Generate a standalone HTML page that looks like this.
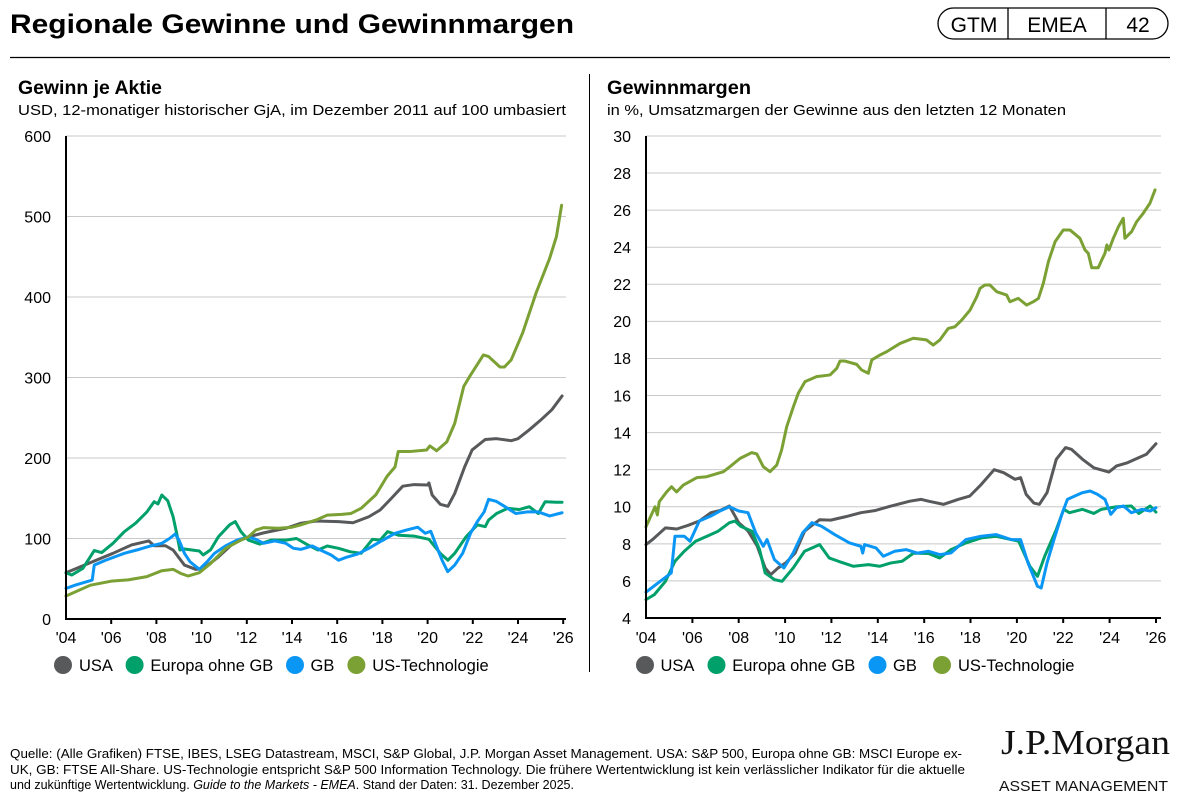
<!DOCTYPE html>
<html><head><meta charset="utf-8"><style>
html,body{margin:0;padding:0;background:#fff;}
svg{display:block;font-family:"Liberation Sans",Arial,sans-serif;}
</style></head><body>
<svg width="1178" height="801" viewBox="0 0 1178 801" xmlns="http://www.w3.org/2000/svg">
<!-- Header -->
<text x="10" y="33" font-size="27" font-weight="bold" fill="#000" textLength="564" lengthAdjust="spacingAndGlyphs">Regionale Gewinne und Gewinnmargen</text>
<rect x="938" y="8" width="230" height="31" rx="15.5" ry="15.5" fill="#fff" stroke="#000" stroke-width="1.3"/>
<line x1="1008" y1="8" x2="1008" y2="39" stroke="#000" stroke-width="1.3"/>
<line x1="1106" y1="8" x2="1106" y2="39" stroke="#000" stroke-width="1.3"/>
<text x="974" y="32" font-size="21" text-anchor="middle" fill="#000">GTM</text>
<text x="1057" y="32" font-size="21" text-anchor="middle" fill="#000">EMEA</text>
<text x="1138" y="32" font-size="21" text-anchor="middle" fill="#000">42</text>
<line x1="10" y1="57.5" x2="1170" y2="57.5" stroke="#000" stroke-width="1.3"/>
<line x1="589.5" y1="74" x2="589.5" y2="672" stroke="#000" stroke-width="1"/>

<!-- Left panel titles -->
<text x="18" y="94" font-size="19" font-weight="bold" fill="#000" textLength="144" lengthAdjust="spacingAndGlyphs">Gewinn je Aktie</text>
<text x="18" y="115" font-size="14.5" fill="#000" textLength="548" lengthAdjust="spacingAndGlyphs">USD, 12-monatiger historischer GjA, im Dezember 2011 auf 100 umbasiert</text>
<!-- Right panel titles -->
<text x="607" y="94" font-size="19" font-weight="bold" fill="#000" textLength="144" lengthAdjust="spacingAndGlyphs">Gewinnmargen</text>
<text x="607" y="115" font-size="14.5" fill="#000" textLength="459" lengthAdjust="spacingAndGlyphs">in %, Umsatzmargen der Gewinne aus den letzten 12 Monaten</text>

<!-- Left gridlines -->
<g stroke="#c8c8c8" stroke-width="1">
<line x1="66" y1="136" x2="566" y2="136"/>
<line x1="66" y1="216.5" x2="566" y2="216.5"/>
<line x1="66" y1="297" x2="566" y2="297"/>
<line x1="66" y1="377.5" x2="566" y2="377.5"/>
<line x1="66" y1="458" x2="566" y2="458"/>
<line x1="66" y1="538.5" x2="566" y2="538.5"/>
</g>
<g font-size="16" fill="#000" text-anchor="end">
<text x="51" y="142">600</text>
<text x="51" y="222.5">500</text>
<text x="51" y="303">400</text>
<text x="51" y="383.5">300</text>
<text x="51" y="464">200</text>
<text x="51" y="544.5">100</text>
<text x="51" y="625">0</text>
</g>

<!-- Right gridlines -->
<g stroke="#c8c8c8" stroke-width="1">
<line x1="646" y1="135.96" x2="1161" y2="135.96"/>
<line x1="646" y1="173.04" x2="1161" y2="173.04"/>
<line x1="646" y1="210.12" x2="1161" y2="210.12"/>
<line x1="646" y1="247.2" x2="1161" y2="247.2"/>
<line x1="646" y1="284.28" x2="1161" y2="284.28"/>
<line x1="646" y1="321.36" x2="1161" y2="321.36"/>
<line x1="646" y1="358.44" x2="1161" y2="358.44"/>
<line x1="646" y1="395.52" x2="1161" y2="395.52"/>
<line x1="646" y1="432.6" x2="1161" y2="432.6"/>
<line x1="646" y1="469.68" x2="1161" y2="469.68"/>
<line x1="646" y1="506.76" x2="1161" y2="506.76"/>
<line x1="646" y1="543.84" x2="1161" y2="543.84"/>
<line x1="646" y1="580.92" x2="1161" y2="580.92"/>
</g>
<g font-size="16" fill="#000" text-anchor="end">
<text x="631" y="142">30</text>
<text x="631" y="179">28</text>
<text x="631" y="216">26</text>
<text x="631" y="253">24</text>
<text x="631" y="290">22</text>
<text x="631" y="327">20</text>
<text x="631" y="364">18</text>
<text x="631" y="401.5">16</text>
<text x="631" y="438.5">14</text>
<text x="631" y="475.5">12</text>
<text x="631" y="512.5">10</text>
<text x="631" y="550">8</text>
<text x="631" y="587">6</text>
<text x="631" y="624">4</text>
</g>

<!-- Left series -->
<g transform="translate(66,619) scale(22.6,-0.805)" fill="none" stroke-width="3" stroke-linejoin="round" stroke-linecap="round">
<polyline vector-effect="non-scaling-stroke" stroke="#58595b" points="0,57.5 1.08,70 2.08,81.6 2.9,92 3.66,97 3.9,91 4.4,91 4.74,85.7 5.24,67 5.74,61.7 6.07,62.5 6.74,77 7.4,94 8.07,102 8.74,107 9.73,112.7 10.4,119 11.07,121.7 12.06,121 12.7,119.6 13.4,127 13.9,135.4 14.4,150 14.9,165 15.4,167 16,166.5 16.06,169 16.2,154 16.56,142.5 16.9,140 17.2,156 17.64,189 17.97,210 18.55,223 19.05,224 19.7,221.5 20,224 20.5,235 21,247 21.5,260 21.95,277"/>
<polyline vector-effect="non-scaling-stroke" stroke="#00a06a" points="0,57.5 0.25,54.6 0.75,63 1.25,85 1.58,82.5 2.08,94 2.58,108.5 3.08,119 3.58,133 3.9,145.7 4.07,143 4.24,154 4.5,147 4.74,127 4.9,106 5.04,85.7 5.24,87 5.9,84.5 6.07,79.5 6.4,86 6.74,102 7.24,117 7.49,121 7.74,108.5 8.07,98 8.57,93 9.07,98 9.73,98 10.2,100 10.7,92 11.15,85.7 11.56,90.7 12.06,87.8 12.56,83.6 13.06,81.6 13.56,99 13.9,98 14.23,108.5 14.73,104 15.4,103 16.06,99 16.56,81.6 16.9,73 17.2,81.6 17.7,102 18.2,117 18.55,114.7 18.7,123 19.05,131 19.55,137.5 20.05,136 20.5,139.5 20.9,131 21.2,145.7 21.7,145 21.95,145"/>
<polyline vector-effect="non-scaling-stroke" stroke="#0a96f5" points="0,38 0.4,42 1.16,48.4 1.25,67 1.75,73 2.58,81.6 3.24,86.5 3.74,90.7 4.24,94 4.58,100 4.83,105.6 5,98 5.24,81.6 5.49,71 5.9,61.7 6.24,71 6.57,81.6 7.07,91 7.57,98 8.07,102 8.4,99 8.74,94 9.24,97 9.73,94 10.07,87.8 10.4,86.5 10.9,90.7 11.23,86 11.73,79.5 12.06,73 12.4,76.6 12.9,80.7 13.4,87.8 13.9,96 14.56,106.5 15.06,110.5 15.56,114 15.9,106.5 16.14,109 16.4,90 16.64,73 16.89,58.8 17.2,67 17.55,81.6 17.9,106.5 18.2,121 18.5,133 18.7,148.7 19.05,146 19.4,140 19.9,131 20.4,133 20.9,133 21.4,128 21.95,132"/>
<polyline vector-effect="non-scaling-stroke" stroke="#7ba034" points="0,28.6 1.08,42 2.0,47 2.75,48.6 3.58,52.6 4.24,60 4.74,61.7 5.07,56.7 5.4,53.4 5.9,57.5 6.4,69 7.07,87.8 7.74,98 8.07,102 8.4,110.5 8.74,113.5 9.4,112.7 10,114 10.4,117 11.07,123 11.56,129 12.2,130 12.6,131 13.06,137.5 13.7,154 13.9,163 14.2,177 14.56,189 14.7,208 15.2,208 15.96,210 16.1,215 16.4,209 16.85,220 17.2,243 17.6,289 17.9,303 18.47,328 18.7,326 19.2,313 19.4,313 19.7,322 20.2,355 20.8,405 21.4,448 21.7,475 21.93,514"/>
</g>

<!-- Right series -->
<g transform="translate(646,692.16) scale(23.18,-18.54)" fill="none" stroke-width="3" stroke-linejoin="round" stroke-linecap="round">
<polyline vector-effect="non-scaling-stroke" stroke="#58595b" points="0,7.96 0.28,8.23 0.52,8.5 0.84,8.86 1.33,8.8 1.82,9.0 2.3,9.23 2.8,9.68 3.2,9.8 3.6,10.04 4.0,9.14 4.4,8.7 4.8,7.87 5.14,6.7 5.38,6.34 5.7,6.7 6.03,6.97 6.43,7.5 6.84,8.68 7.16,9.0 7.49,9.3 7.97,9.28 8.6,9.46 9.27,9.68 9.9,9.8 10.57,10.04 11.38,10.3 11.86,10.4 12.19,10.3 12.84,10.13 13.48,10.4 13.97,10.58 14.46,11.2 15.02,12.0 15.43,11.84 15.92,11.48 16.16,11.57 16.4,10.67 16.73,10.2 16.97,10.13 17.3,10.76 17.7,12.56 18.1,13.19 18.35,13.1 18.83,12.56 19.32,12.1 19.8,11.93 19.97,11.87 20.3,12.2 20.78,12.38 21.26,12.65 21.59,12.83 22,13.4"/>
<polyline vector-effect="non-scaling-stroke" stroke="#00a06a" points="0,4.99 0.36,5.26 0.84,5.98 1.25,7.06 1.65,7.6 2.14,8.14 2.63,8.41 3.11,8.68 3.6,9.14 3.84,9.23 4.08,8.95 4.57,8.68 4.9,7.69 5.14,6.43 5.54,6.07 5.87,5.98 6.35,6.7 6.84,7.6 7.33,7.87 7.49,7.96 7.9,7.24 8.3,7.06 8.95,6.79 9.6,6.88 10.08,6.79 10.57,6.97 11.05,7.06 11.54,7.5 12.19,7.48 12.67,7.24 13.16,7.69 13.8,8.05 14.46,8.32 15.1,8.41 15.75,8.23 16.08,8.14 16.56,6.79 16.89,6.25 17.2,7.33 17.7,8.77 18.02,9.86 18.27,9.68 18.83,9.86 19.32,9.64 19.64,9.86 20.3,10.0 20.94,10.04 21.26,9.64 21.75,10.04 22,9.71"/>
<polyline vector-effect="non-scaling-stroke" stroke="#0a96f5" points="0,5.39 0.52,5.89 1.09,6.43 1.25,8.41 1.65,8.41 1.9,8.14 2.3,9.23 2.8,9.5 3.19,9.77 3.6,10.0 4.0,9.77 4.4,9.68 4.73,8.6 5.06,7.87 5.22,8.23 5.54,7.15 5.95,6.7 6.35,7.51 6.76,8.6 7.16,9.14 7.57,8.95 8.14,8.5 8.78,8.05 9.27,7.87 9.35,7.5 9.43,7.96 9.92,7.78 10.24,7.33 10.73,7.6 11.22,7.69 11.7,7.5 12.19,7.6 12.67,7.42 13.16,7.51 13.8,8.23 14.46,8.41 15.1,8.5 15.75,8.23 16.16,8.23 16.48,6.97 16.89,5.71 17.05,5.62 17.3,6.97 17.6,8.23 17.94,9.59 18.18,10.4 18.5,10.58 18.83,10.76 19.16,10.85 19.48,10.67 19.8,10.4 20.05,9.59 20.3,9.95 20.6,10.04 20.94,9.68 21.4,9.86 21.75,9.77 22,9.95"/>
<polyline vector-effect="non-scaling-stroke" stroke="#7ba034" points="0,8.92 0.39,10.0 0.49,9.56 0.57,10.27 0.89,10.8 1.1,11.08 1.32,10.8 1.61,11.17 2.19,11.57 2.62,11.62 3.34,11.89 3.62,12.16 4.06,12.61 4.56,12.92 4.78,12.85 5.06,12.16 5.35,11.89 5.64,12.25 5.85,13.06 6.07,14.32 6.36,15.4 6.57,16.12 6.86,16.75 7.36,17.02 7.94,17.11 8.23,17.47 8.37,17.86 8.58,17.86 9.09,17.68 9.3,17.38 9.59,17.2 9.74,17.92 10.1,18.19 10.38,18.36 10.96,18.81 11.53,19.09 12.1,19.0 12.39,18.72 12.68,19.0 13.04,19.62 13.33,19.71 13.62,20.07 13.98,20.61 14.27,21.33 14.41,21.78 14.62,21.96 14.84,21.96 15.13,21.6 15.56,21.42 15.7,21.06 16.06,21.24 16.42,20.88 16.71,21.06 16.93,21.24 17.14,22.05 17.36,23.22 17.65,24.3 18.0,24.93 18.29,24.93 18.72,24.48 18.94,23.85 19.08,23.67 19.23,22.89 19.51,22.89 19.66,23.31 19.8,23.67 19.88,24.12 19.97,23.85 20.16,24.48 20.38,25.1 20.59,25.56 20.66,24.48 20.95,24.84 21.17,25.38 21.45,25.83 21.74,26.37 21.96,27.09"/>
</g>

<!-- Left axes -->
<g stroke="#000" stroke-width="2">
<line x1="66" y1="136" x2="66" y2="620"/>
<line x1="65" y1="619" x2="566" y2="619"/>
<line x1="111.2" y1="619" x2="111.2" y2="624"/>
<line x1="156.4" y1="619" x2="156.4" y2="624"/>
<line x1="201.6" y1="619" x2="201.6" y2="624"/>
<line x1="246.8" y1="619" x2="246.8" y2="624"/>
<line x1="292" y1="619" x2="292" y2="624"/>
<line x1="337.2" y1="619" x2="337.2" y2="624"/>
<line x1="382.4" y1="619" x2="382.4" y2="624"/>
<line x1="427.6" y1="619" x2="427.6" y2="624"/>
<line x1="472.8" y1="619" x2="472.8" y2="624"/>
<line x1="518" y1="619" x2="518" y2="624"/>
<line x1="563.2" y1="619" x2="563.2" y2="624"/>
</g>
<g font-size="16" fill="#000" text-anchor="middle">
<text x="66" y="643">'04</text>
<text x="111.2" y="643">'06</text>
<text x="156.4" y="643">'08</text>
<text x="201.6" y="643">'10</text>
<text x="246.8" y="643">'12</text>
<text x="292" y="643">'14</text>
<text x="337.2" y="643">'16</text>
<text x="382.4" y="643">'18</text>
<text x="427.6" y="643">'20</text>
<text x="472.8" y="643">'22</text>
<text x="518" y="643">'24</text>
<text x="563.2" y="643">'26</text>
</g>

<!-- Right axes -->
<g stroke="#000" stroke-width="2">
<line x1="646" y1="136" x2="646" y2="619"/>
<line x1="645" y1="618" x2="1161" y2="618"/>
<line x1="692.4" y1="618" x2="692.4" y2="623"/>
<line x1="738.7" y1="618" x2="738.7" y2="623"/>
<line x1="785.1" y1="618" x2="785.1" y2="623"/>
<line x1="831.4" y1="618" x2="831.4" y2="623"/>
<line x1="877.8" y1="618" x2="877.8" y2="623"/>
<line x1="924.2" y1="618" x2="924.2" y2="623"/>
<line x1="970.5" y1="618" x2="970.5" y2="623"/>
<line x1="1016.9" y1="618" x2="1016.9" y2="623"/>
<line x1="1063.2" y1="618" x2="1063.2" y2="623"/>
<line x1="1109.6" y1="618" x2="1109.6" y2="623"/>
<line x1="1156" y1="618" x2="1156" y2="623"/>
</g>
<g font-size="16" fill="#000" text-anchor="middle">
<text x="646" y="643">'04</text>
<text x="692.4" y="643">'06</text>
<text x="738.7" y="643">'08</text>
<text x="785.1" y="643">'10</text>
<text x="831.4" y="643">'12</text>
<text x="877.8" y="643">'14</text>
<text x="924.2" y="643">'16</text>
<text x="970.5" y="643">'18</text>
<text x="1016.9" y="643">'20</text>
<text x="1063.2" y="643">'22</text>
<text x="1109.6" y="643">'24</text>
<text x="1156" y="643">'26</text>
</g>

<!-- Left legend -->
<g font-size="16.5" fill="#000">
<circle cx="63" cy="665" r="9" fill="#58595b"/>
<text x="79" y="671">USA</text>
<circle cx="134.6" cy="665" r="9" fill="#00a06a"/>
<text x="150.4" y="671">Europa ohne GB</text>
<circle cx="295" cy="665" r="9" fill="#0a96f5"/>
<text x="310.5" y="671">GB</text>
<circle cx="356.4" cy="665" r="9" fill="#7ba034"/>
<text x="372.2" y="671">US-Technologie</text>
</g>
<!-- Right legend -->
<g font-size="16.5" fill="#000">
<circle cx="645" cy="665" r="9" fill="#58595b"/>
<text x="660.5" y="671">USA</text>
<circle cx="716.5" cy="665" r="9" fill="#00a06a"/>
<text x="732.3" y="671">Europa ohne GB</text>
<circle cx="877.5" cy="665" r="9" fill="#0a96f5"/>
<text x="893" y="671">GB</text>
<circle cx="942" cy="665" r="9" fill="#7ba034"/>
<text x="958" y="671">US-Technologie</text>
</g>

<!-- Footer -->
<g font-size="12.5" fill="#000">
<text x="10" y="758" textLength="952" lengthAdjust="spacingAndGlyphs">Quelle: (Alle Grafiken) FTSE, IBES, LSEG Datastream, MSCI, S&amp;P Global, J.P. Morgan Asset Management. USA: S&amp;P 500, Europa ohne GB: MSCI Europe ex-</text>
<text x="10" y="774" textLength="955" lengthAdjust="spacingAndGlyphs">UK, GB: FTSE All-Share. US-Technologie entspricht S&amp;P 500 Information Technology. Die frühere Wertentwicklung ist kein verlässlicher Indikator für die aktuelle</text>
<text x="10" y="789">und zukünftige Wertentwicklung. <tspan font-style="italic">Guide to the Markets - EMEA</tspan>. Stand der Daten: 31. Dezember 2025.</text>
</g>

<!-- Logo -->
<text x="1001" y="754" font-family="Liberation Serif, serif" font-size="35" fill="#111" textLength="169" lengthAdjust="spacingAndGlyphs">J.P.Morgan</text>
<text x="999" y="791" font-size="15" fill="#111" textLength="169" lengthAdjust="spacingAndGlyphs">ASSET MANAGEMENT</text>
</svg>
</body></html>
